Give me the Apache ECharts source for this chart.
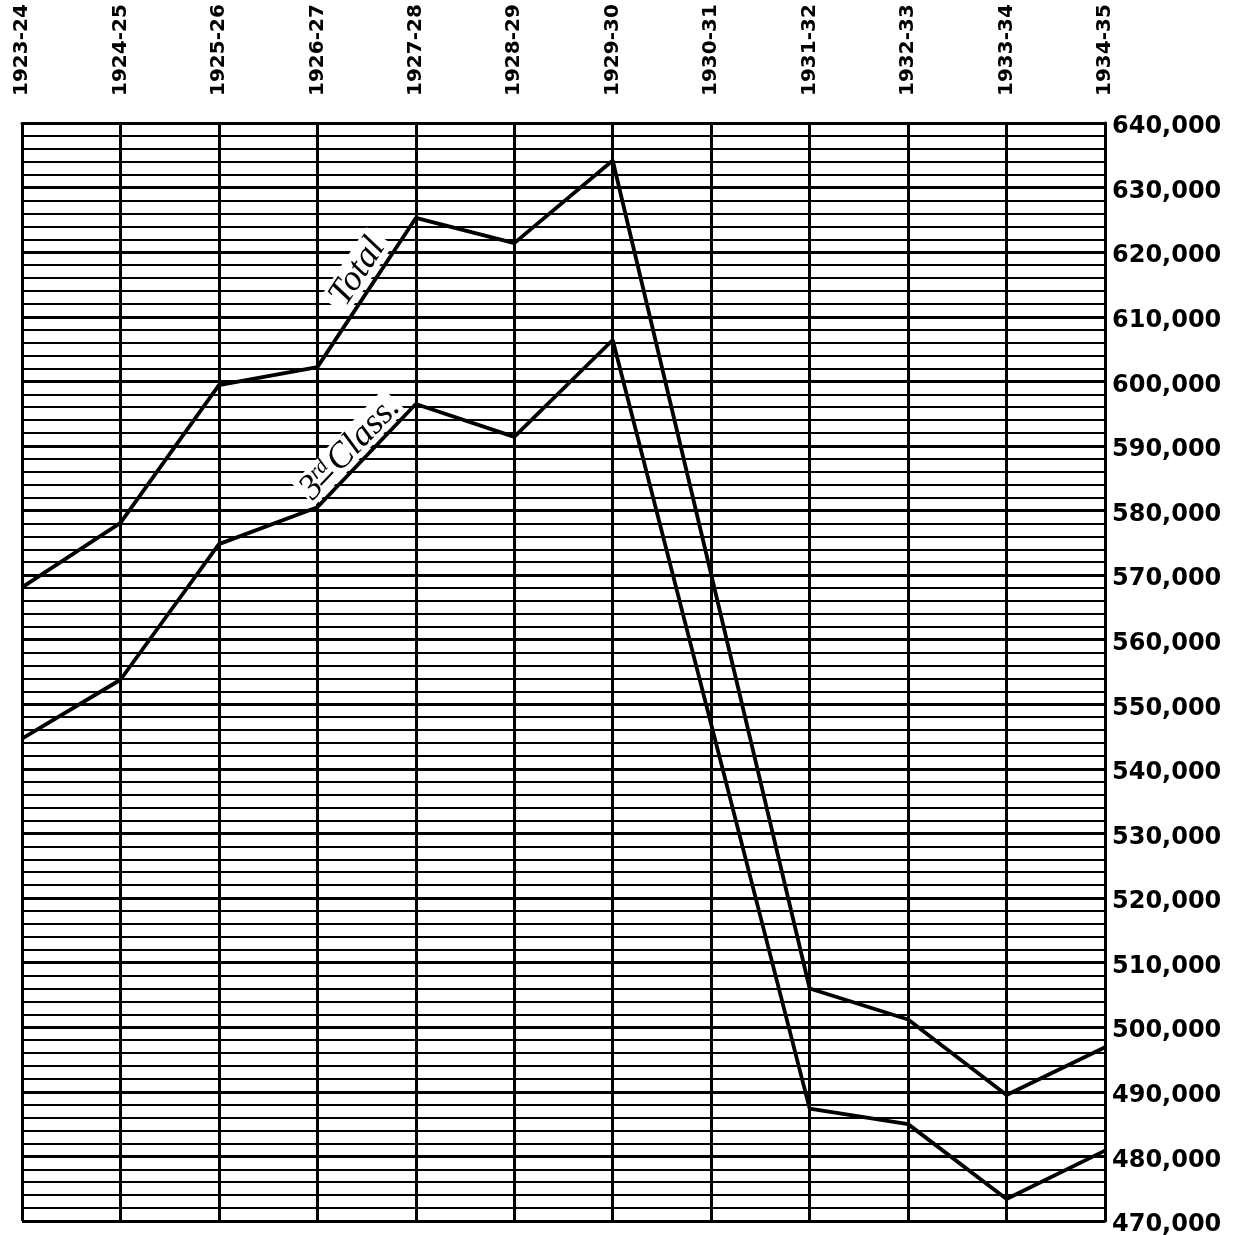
<!DOCTYPE html>
<html>
<head>
<meta charset="utf-8">
<script src="https://cdn.jsdelivr.net/npm/echarts@6/dist/echarts.min.js"></script>
<style>
html,body{margin:0;padding:0;background:#fff;}
#chart{width:1238px;height:1235px;}
</style>
</head>
<body>
<div id="chart"></div>
<script>
const years = ['1923-24','1924-25','1925-26','1926-27','1927-28','1928-29','1929-30','1930-31','1931-32','1932-33','1933-34','1934-35'];
const totalValues = [568100, 578100, 599400, 602200, 625300, 621400, 634200, null, 506000, 501200, 489500, 496900];
const thirdClassValues = [544700, 553800, 574800, 580500, 596500, 591400, 606400, null, 487400, 485000, 473400, 480900];
const yMin = 470000, yMax = 640000, yMinorStep = 2000, yMajorStep = 10000;

const chart = echarts.init(document.getElementById('chart'), null, {renderer:'canvas'});
const black = '#000';
chart.setOption({
  backgroundColor: '#fff',
  animation: false,
  grid: {left: 22, right: 133, top: 123, bottom: 14, containLabel: false, outerBoundsMode: 'none'},
  xAxis: {
    type: 'category', position: 'top', boundaryGap: false, data: years,
    axisLine: {show: true, lineStyle: {color: black, width: 3}},
    axisTick: {show: false},
    axisLabel: {rotate: -90, margin: 27, color: black, fontSize: 20, fontWeight: 'bold', fontFamily: 'DejaVu Sans', interval: 0},
    splitLine: {show: true, interval: 0, lineStyle: {color: black, width: 3}}
  },
  yAxis: [{
    type: 'value', position: 'right', min: yMin, max: yMax, interval: yMinorStep,
    axisLine: {show: true, lineStyle: {color: black, width: 3}},
    axisTick: {show: false},
    axisLabel: {show: false},
    splitLine: {show: true, lineStyle: {color: black, width: 2}}
  }, {
    type: 'value', position: 'right', min: yMin, max: yMax, interval: yMajorStep,
    axisLine: {show: false},
    axisTick: {show: false},
    axisLabel: {margin: 7, color: black, fontSize: 24, fontWeight: 'bold', fontFamily: 'DejaVu Sans',
      verticalAlign: 'top', lineHeight: 8,
      formatter: v => v.toLocaleString('en-US')},
    splitLine: {show: true, lineStyle: {color: black, width: 3}}
  }],
  series: [{
    name: 'Total', type: 'line', data: totalValues, connectNulls: true, symbol: 'none', yAxisIndex: 1, z: 5,
    lineStyle: {color: black, width: 3.8}
  }, {
    name: '3rd Class', type: 'line', data: thirdClassValues, connectNulls: true, symbol: 'none', yAxisIndex: 1, z: 5,
    lineStyle: {color: black, width: 3.8}
  }]
});

function anchor(values, i, t) {
  const p1 = chart.convertToPixel({xAxisIndex: 0, yAxisIndex: 1}, [i, values[i]]);
  const p2 = chart.convertToPixel({xAxisIndex: 0, yAxisIndex: 1}, [i + 1, values[i + 1]]);
  return {x: p1[0] + t * (p2[0] - p1[0]), y: p1[1] + t * (p2[1] - p1[1]),
          rot: Math.atan2(-(p2[1] - p1[1]), p2[0] - p1[0])};
}
const serif = 'italic 36px "Liberation Serif", "DejaVu Serif", serif';
const a1 = anchor(totalValues, 3, 0.57);
const a2 = anchor(thirdClassValues, 3, 0.50);
chart.setOption({
  graphic: [{
    type: 'group', x: a1.x, y: a1.y, rotation: a1.rot, z: 10,
    children: [
      {type: 'rect', shape: {x: -42, y: -36, width: 84, height: 32}, style: {fill: '#fff'}},
      {type: 'text', x: 0, y: -19, style: {text: 'Total', font: serif, fill: black, align: 'center', verticalAlign: 'middle'}}
    ]
  }, {
    type: 'group', x: a2.x, y: a2.y, rotation: a2.rot, z: 10,
    children: [
      {type: 'rect', shape: {x: -72, y: -34, width: 132, height: 31}, style: {fill: '#fff'}},
      {type: 'text', x: -70, y: -17, style: {text: '3', font: serif, fill: black, align: 'left', verticalAlign: 'middle'}},
      {type: 'text', x: -52, y: -25, style: {text: 'rd', font: 'italic 21px "Liberation Serif", serif', fill: black, align: 'left', verticalAlign: 'middle'}},
      {type: 'line', shape: {x1: -53, y1: -13, x2: -35, y2: -13}, style: {stroke: black, lineWidth: 2}},
      {type: 'text', x: -31, y: -17, style: {text: 'Class.', font: serif, fill: black, align: 'left', verticalAlign: 'middle'}}
    ]
  }]
});
</script>
</body>
</html>
